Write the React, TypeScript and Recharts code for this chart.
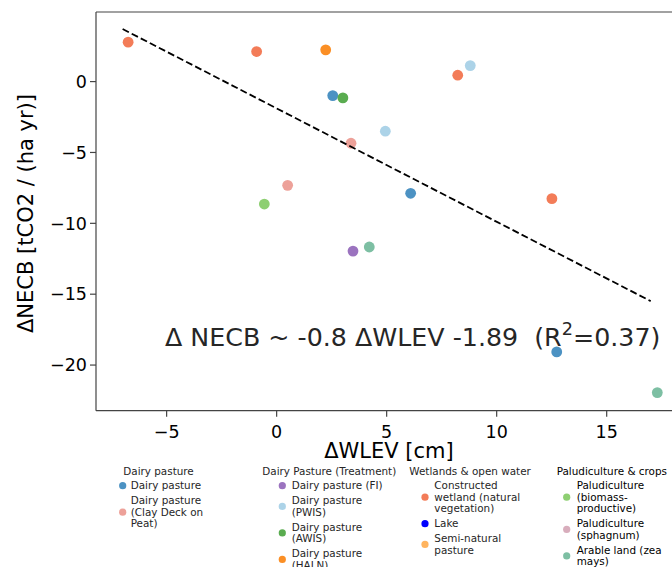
import React from 'react';
import { ScatterChart, Scatter, XAxis, YAxis, ReferenceLine } from 'recharts';

// ---------- data ----------
const dairyPasture = [
  { x: 2.55, y: -0.99 },
  { x: 6.09, y: -7.88 },
  { x: 12.73, y: -19.07 },
];
const dairyClayDeck = [
  { x: 3.38, y: -4.35 },
  { x: 0.5, y: -7.32 },
];
const dairyFI = [{ x: 3.47, y: -11.96 }];
const dairyPWIS = [
  { x: 4.94, y: -3.5 },
  { x: 8.8, y: 1.13 },
];
const dairyAWIS = [{ x: 3.01, y: -1.15 }];
const dairyHALN = [{ x: 2.23, y: 2.24 }];
const constructedWetland = [
  { x: -6.75, y: 2.78 },
  { x: -0.91, y: 2.12 },
  { x: 8.23, y: 0.45 },
  { x: 12.51, y: -8.26 },
];
const lake: { x: number; y: number }[] = [];
const semiNatural: { x: number; y: number }[] = [];
const paludiBiomass = [{ x: -0.56, y: -8.64 }];
const paludiSphagnum: { x: number; y: number }[] = [];
const arable = [
  { x: 4.21, y: -11.67 },
  { x: 17.3, y: -21.94 },
];

const X_TICKS = [-5, 0, 5, 10, 15];
const Y_TICKS = [0, -5, -10, -15, -20];
const X_DOMAIN = [-8.21, 18.3];
const Y_DOMAIN = [-23.22, 4.91];

const FIT_SLOPE = -0.8;
const FIT_INTERCEPT = -1.89;
const FIT_X = [-7, 17];
const fitLine = FIT_X.map((x) => ({ x, y: FIT_SLOPE * x + FIT_INTERCEPT }));

const GROUP_TITLES = [
  'Dairy pasture',
  'Dairy Pasture (Treatment)',
  'Wetlands & open water',
  'Paludiculture & crops',
];

const SERIES = [
  { group: 0, lines: ['Dairy pasture'], color: '#4c92c3', data: dairyPasture },
  { group: 0, lines: ['Dairy pasture', '(Clay Deck on', 'Peat)'], color: '#eda199', data: dairyClayDeck },
  { group: 1, lines: ['Dairy pasture (FI)'], color: '#9b73bf', data: dairyFI },
  { group: 1, lines: ['Dairy pasture', '(PWIS)'], color: '#acd3e8', data: dairyPWIS },
  { group: 1, lines: ['Dairy pasture', '(AWIS)'], color: '#5aac50', data: dairyAWIS },
  { group: 1, lines: ['Dairy pasture', '(HALN)'], color: '#fb8f25', data: dairyHALN },
  { group: 2, lines: ['Constructed', 'wetland (natural', 'vegetation)'], color: '#f37c58', data: constructedWetland },
  { group: 2, lines: ['Lake'], color: '#0000ff', data: lake },
  { group: 2, lines: ['Semi-natural', 'pasture'], color: '#ffb45e', data: semiNatural },
  { group: 3, lines: ['Paludiculture', '(biomass-', 'productive)'], color: '#8ecf72', data: paludiBiomass },
  { group: 3, lines: ['Paludiculture', '(sphagnum)'], color: '#d8adbc', data: paludiSphagnum },
  { group: 3, lines: ['Arable land (zea', 'mays)'], color: '#7dbfa3', data: arable },
];

// ---------- layout ----------
const FONT = "'DejaVu Sans', sans-serif";
const LEGEND_COLS = [
  { titleX: 123.3, markerX: 122.7, textX: 130.7, color: '#262626' },
  { titleX: 262.3, markerX: 282.3, textX: 291.7, color: '#262626' },
  { titleX: 409.3, markerX: 425, textX: 434.3, color: '#262626' },
  { titleX: 556.7, markerX: 566.7, textX: 576.7, color: '#000' },
];
const LEG_TITLE_Y = 471.7;
const LEG_FIRST_Y = 485.7;
const LEG_LINE = 11.5;
const LEG_GAP = 15;
const LEG_FS = 10.4;
const NOTE_FS = 25.3;

const fmt = (v: number) => String(v).replace('-', '\u2212');

const dot = (color: string) => (p: any) =>
  p.cx == null ? <g /> : <circle cx={p.cx} cy={p.cy} r={5.4} fill={color} />;

function Legend() {
  const out: React.ReactNode[] = [];
  LEGEND_COLS.forEach((col, gi) => {
    out.push(
      <text key={'t' + gi} x={col.titleX} y={LEG_TITLE_Y} dy="0.36em" fontSize={LEG_FS} fill={col.color}>
        {GROUP_TITLES[gi]}
      </text>
    );
    let y = LEG_FIRST_Y;
    SERIES.filter((s) => s.group === gi).forEach((s, si) => {
      const n = s.lines.length;
      const my = y + ((n - 1) * LEG_LINE) / 2;
      out.push(<circle key={`m${gi}-${si}`} cx={col.markerX} cy={my} r={3.6} fill={s.color} />);
      s.lines.forEach((ln, li) => {
        out.push(
          <text key={`l${gi}-${si}-${li}`} x={col.textX} y={y + li * LEG_LINE} dy="0.36em" fontSize={LEG_FS} fill={col.color}>
            {ln}
          </text>
        );
      });
      y = y + (n - 1) * LEG_LINE + LEG_GAP;
    });
  });
  return <g fontFamily={FONT}>{out}</g>;
}

export default function App() {
  return (
    <div
      style={{
        position: 'fixed',
        left: 0,
        top: 0,
        width: 672,
        height: 567,
        overflow: 'hidden',
        background: '#fff',
        fontFamily: FONT,
      }}
    >
      <ScatterChart width={700} height={567} margin={{ top: 12, right: 20.7, bottom: 116.3, left: 0 }}>
        <XAxis
          type="number"
          dataKey="x"
          domain={X_DOMAIN}
          allowDataOverflow
          ticks={X_TICKS}
          tickFormatter={fmt}
          height={40}
          tickSize={6}
          tickMargin={9}
          axisLine={{ stroke: '#444', strokeWidth: 1.2 }}
          tickLine={{ stroke: '#444', strokeWidth: 1.2 }}
          tick={{ fill: '#000', fontSize: 17.5, fontFamily: FONT }}
          label={{
            content: () => (
              <text x={389} y={458} textAnchor="middle" fontSize={21} fontFamily={FONT} fill="#000">
                ΔWLEV [cm]
              </text>
            ),
          }}
        />
        <YAxis
          type="number"
          dataKey="y"
          domain={Y_DOMAIN}
          allowDataOverflow
          ticks={Y_TICKS}
          tickFormatter={fmt}
          width={96}
          tickSize={6}
          tickMargin={3}
          axisLine={{ stroke: '#444', strokeWidth: 1.2 }}
          tickLine={{ stroke: '#444', strokeWidth: 1.2 }}
          tick={{ fill: '#000', fontSize: 17.5, fontFamily: FONT }}
          label={{
            content: () => (
              <text
                x={32.5}
                y={213.5}
                transform="rotate(-90 32.5 213.5)"
                textAnchor="middle"
                fontSize={21}
                fontFamily={FONT}
                fill="#000"
              >
                ΔNECB [tCO2 / (ha yr)]
              </text>
            ),
          }}
        />
        <ReferenceLine y={Y_DOMAIN[1]} stroke="#444" strokeWidth={1.2} />
        <ReferenceLine x={X_DOMAIN[1]} stroke="#444" strokeWidth={1.2} />
        {SERIES.filter((s) => s.data.length > 0).map((s, i) => (
          <Scatter key={i} data={s.data} fill={s.color} shape={dot(s.color)} isAnimationActive={false} />
        ))}
        <Scatter
          data={fitLine}
          line={{ stroke: '#000', strokeWidth: 1.8, strokeDasharray: '7 3.2' }}
          shape={() => <g />}
          isAnimationActive={false}
        />
      </ScatterChart>
      <svg width={672} height={567} style={{ position: 'absolute', left: 0, top: 0, pointerEvents: 'none' }}>
        <text x={165} y={345.5} fontSize={NOTE_FS} fontFamily={FONT} fill="#262626">
          Δ NECB ~ -0.8 ΔWLEV -1.89{'\u00a0\u00a0'}(R
          <tspan fontSize={NOTE_FS * 0.7} dy={-NOTE_FS * 0.4}>2</tspan>
          <tspan dy={NOTE_FS * 0.4}>=0.37)</tspan>
        </text>
        <Legend />
      </svg>
    </div>
  );
}
